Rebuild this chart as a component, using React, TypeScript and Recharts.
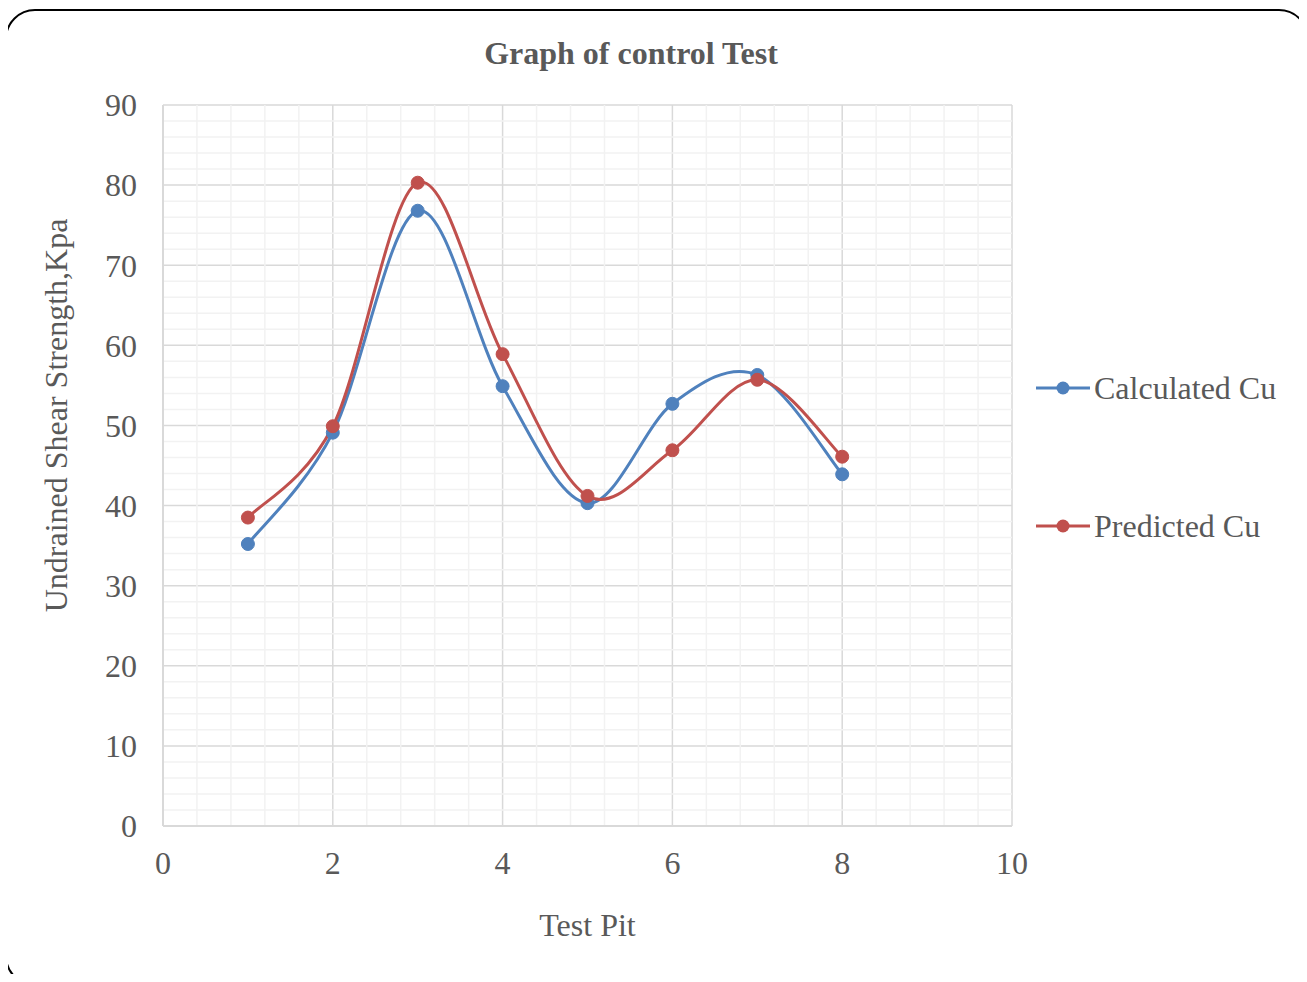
import React from 'react';
import {
  LineChart,
  Line,
  XAxis,
  YAxis,
  CartesianGrid,
  ReferenceLine,
  Legend,
  Label,
} from 'recharts';

// test pit numbers and the two strength series (kPa)
const testPits = [1, 2, 3, 4, 5, 6, 7, 8];
const calculatedCu = [35.2, 49.1, 76.8, 54.9, 40.3, 52.7, 56.3, 43.9];
const predictedCu = [38.5, 49.9, 80.3, 58.9, 41.2, 46.9, 55.7, 46.1];

const xTicks = [0, 2, 4, 6, 8, 10];
const yTicks = [0, 10, 20, 30, 40, 50, 60, 70, 80, 90];
const xMinor = [0.4, 0.8, 1.2, 1.6, 2.4, 2.8, 3.2, 3.6, 4.4, 4.8, 5.2, 5.6, 6.4, 6.8, 7.2, 7.6, 8.4, 8.8, 9.2, 9.6];
const yMinor = [2, 4, 6, 8, 12, 14, 16, 18, 22, 24, 26, 28, 32, 34, 36, 38, 42, 44, 46, 48, 52, 54, 56, 58, 62, 64, 66, 68, 72, 74, 76, 78, 82, 84, 86, 88];

const data = testPits.map((pit, i) => ({
  pit,
  calculated: calculatedCu[i],
  predicted: predictedCu[i],
}));

const BLUE = '#4F81BD';
const RED = '#C0504D';
const TEXT = '#595959';
const FONT = '"Liberation Serif", "Times New Roman", serif';
const FS = 32;

// Excel-style smoothed line: cubic Bezier with Catmull-Rom control points
const smoothCurve = (context: any) => {
  let pts: number[][] = [];
  return {
    areaStart() {},
    areaEnd() {},
    lineStart() {
      pts = [];
    },
    point(x: number, y: number) {
      pts.push([+x, +y]);
    },
    lineEnd() {
      if (!pts.length) return;
      context.moveTo(pts[0][0], pts[0][1]);
      for (let i = 0; i < pts.length - 1; i++) {
        const p0 = pts[i - 1] || pts[i];
        const p1 = pts[i];
        const p2 = pts[i + 1];
        const p3 = pts[i + 2] || pts[i + 1];
        context.bezierCurveTo(
          p1[0] + (p2[0] - p0[0]) / 6,
          p1[1] + (p2[1] - p0[1]) / 6,
          p2[0] - (p3[0] - p1[0]) / 6,
          p2[1] - (p3[1] - p1[1]) / 6,
          p2[0],
          p2[1]
        );
      }
    },
  };
};

const legendItems = [
  { name: 'Calculated Cu', color: BLUE },
  { name: 'Predicted Cu', color: RED },
];

const renderLegend = () => (
  <div style={{ position: 'relative', top: -34, paddingLeft: 24, fontFamily: FONT, fontSize: FS, color: TEXT }}>
    {legendItems.map((item, i) => (
      <div key={item.name} style={{ display: 'flex', alignItems: 'center', height: 40, marginTop: i ? 98 : 0 }}>
        <svg width={54} height={16} style={{ marginRight: 4 }}>
          <line x1={0} y1={8} x2={54} y2={8} stroke={item.color} strokeWidth={3} />
          <circle cx={27} cy={8} r={6.5} fill={item.color} />
        </svg>
        <span>{item.name}</span>
      </div>
    ))}
  </div>
);

const renderYLabel = (props: any) => {
  const { viewBox } = props;
  const x = viewBox.x + 47;
  const y = viewBox.y + viewBox.height / 2 - 50;
  return (
    <text
      x={x}
      y={y}
      transform={`rotate(-90, ${x}, ${y})`}
      textAnchor="middle"
      fill={TEXT}
      fontFamily={FONT}
      fontSize={FS}
    >
      Undrained Shear Strength,Kpa
    </text>
  );
};

export default function App() {
  return (
    <div style={{ margin: -8, width: 1307, height: 982, overflow: 'hidden', position: 'relative', background: '#fff' }}>
      <div
        style={{
          position: 'absolute',
          left: 5,
          top: 9,
          width: 1304,
          height: 977,
          border: '2.5px solid #000',
          borderRadius: 30,
          boxSizing: 'border-box',
        }}
      />
      <div style={{ position: 'absolute', left: 0, top: 0 }}>
        <LineChart
          width={1307}
          height={982}
          data={data}
          margin={{ top: 105, right: 25, bottom: 80, left: 20 }}
        >
          <text x={631} y={64} textAnchor="middle" fill={TEXT} fontFamily={FONT} fontSize={FS} fontWeight="bold">
            Graph of control Test
          </text>
          {xMinor.map((v) => (
            <ReferenceLine key={`xm-${v}`} x={v} stroke="#F2F2F2" strokeWidth={1.5} />
          ))}
          {yMinor.map((v) => (
            <ReferenceLine key={`ym-${v}`} y={v} stroke="#F2F2F2" strokeWidth={1.5} />
          ))}
          <CartesianGrid stroke="#D9D9D9" strokeWidth={1.5} />
          <XAxis
            dataKey="pit"
            type="number"
            domain={[0, 10]}
            ticks={xTicks}
            height={76}
            axisLine={{ stroke: '#D9D9D9', strokeWidth: 2 }}
            tickLine={false}
            tick={{ fill: TEXT, fontFamily: FONT, fontSize: FS }}
            tickMargin={19}
          >
            <Label value="Test Pit" position="insideBottom" offset={-34} fill={TEXT} fontFamily={FONT} fontSize={FS} />
          </XAxis>
          <YAxis
            type="number"
            domain={[0, 90]}
            ticks={yTicks}
            width={143}
            axisLine={{ stroke: '#D9D9D9', strokeWidth: 2 }}
            tickLine={false}
            tick={{ fill: TEXT, fontFamily: FONT, fontSize: FS }}
            tickMargin={20}
          >
            <Label content={renderYLabel} />
          </YAxis>
          <Legend
            layout="vertical"
            align="right"
            verticalAlign="middle"
            width={270}
            content={renderLegend}
          />
          <Line
            dataKey="calculated"
            name="Calculated Cu"
            type={smoothCurve as any}
            stroke={BLUE}
            strokeWidth={3}
            dot={{ r: 6.5, fill: BLUE, stroke: BLUE, strokeWidth: 1 }}
            activeDot={false}
            isAnimationActive={false}
          />
          <Line
            dataKey="predicted"
            name="Predicted Cu"
            type={smoothCurve as any}
            stroke={RED}
            strokeWidth={3}
            dot={{ r: 6.5, fill: RED, stroke: RED, strokeWidth: 1 }}
            activeDot={false}
            isAnimationActive={false}
          />
        </LineChart>
      </div>
    </div>
  );
}
